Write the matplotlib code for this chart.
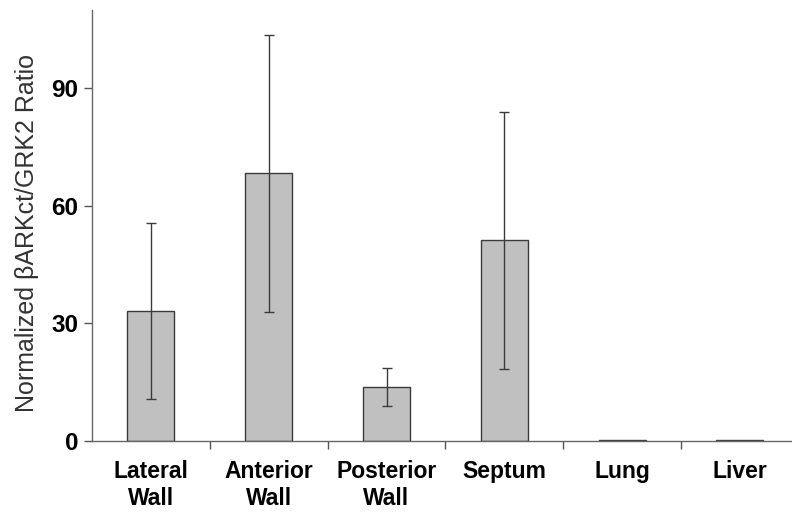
import matplotlib
matplotlib.use("Agg")
import matplotlib.pyplot as plt

categories = ["Lateral\nWall", "Anterior\nWall", "Posterior\nWall", "Septum", "Lung", "Liver"]
values = [33.1, 68.3, 13.8, 51.2, 0.3, 0.3]
errors = [22.4, 35.3, 4.8, 32.8, 0.0, 0.0]
yticks = [0, 30, 60, 90]

plt.rcParams['font.family'] = ['Liberation Sans', 'DejaVu Sans']

fig = plt.figure(figsize=(7.92, 5.15), dpi=100)
ax = fig.add_axes([0.1162, 0.1437, 0.8924, 0.8377])

x = list(range(len(categories)))
ax.bar(x, values, width=0.40, color="#c0c0c0", edgecolor="#3a3a3a", linewidth=1.0, zorder=2)
err_x = [xi for xi, e in zip(x, errors) if e > 0]
err_v = [v for v, e in zip(values, errors) if e > 0]
err_e = [e for e in errors if e > 0]
ax.errorbar(err_x, err_v, yerr=err_e, fmt='none', ecolor="#3a3a3a", elinewidth=1.0,
            capsize=3.5, capthick=1.0, zorder=3)

ax.set_xlim(-0.5, 5.5)
ax.set_ylim(0, 110)
ax.set_yticks(yticks)
ax.set_yticklabels([str(t) for t in yticks], fontsize=17.5, fontweight='bold')

ax.set_xticks([i + 0.5 for i in range(len(categories) - 1)])
ax.set_xticklabels([])
ax.set_xticks(x, minor=True)
ax.set_xticklabels(categories, minor=True, fontsize=16.5, fontweight='bold', linespacing=1.2)
ax.tick_params(axis='x', which='minor', length=0, pad=14)
ax.tick_params(axis='x', which='major', length=6, width=1.0, color="#555555", direction='out')
ax.tick_params(axis='y', length=6, width=1.0, color="#555555", direction='out', pad=4)

for s in ['top', 'right']:
    ax.spines[s].set_visible(False)
for s in ['left', 'bottom']:
    ax.spines[s].set_color("#666666")
    ax.spines[s].set_linewidth(1.0)

ax.set_ylabel("Normalized \u03b2ARKct/GRK2 Ratio", fontsize=18, color="#333333")
# place label centre at about x=27 px, y=233 px in figure pixels
lx, ly = ax.transAxes.inverted().transform(fig.transFigure.transform((27 / 792, 1 - 233 / 515)))
ax.yaxis.set_label_coords(lx, ly)
ax.yaxis.label.set_verticalalignment('center')

fig.savefig("out.png", dpi=100)
